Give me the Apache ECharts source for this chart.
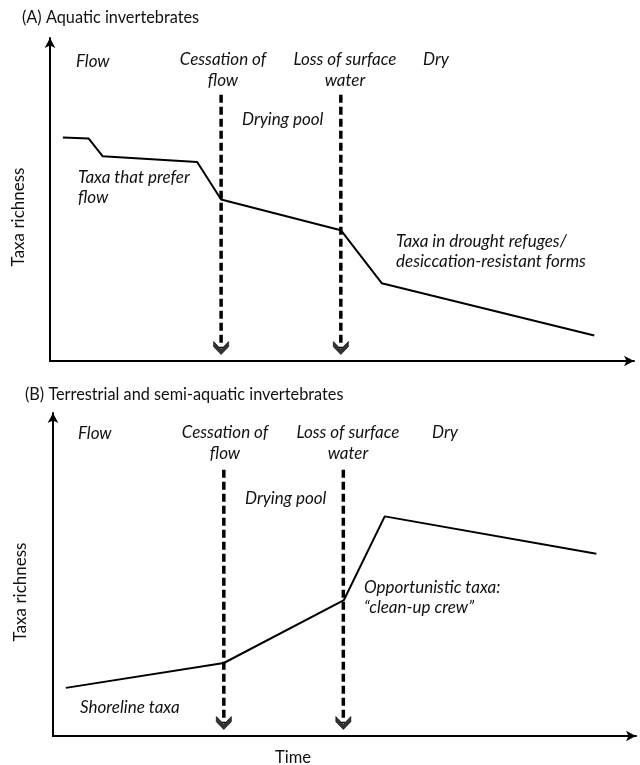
<!DOCTYPE html>
<html>
<head>
<meta charset="utf-8">
<script src="https://cdn.jsdelivr.net/npm/echarts@6/dist/echarts.min.js"></script>
<style>
  html, body { margin: 0; padding: 0; background: #fff; }
  #chart { width: 640px; height: 765px; }
</style>
</head>
<body>
<div id="chart"></div>
<script>
// ---- Data ----
const timeA = [2.2, 6.6, 9.0, 25.2, 29.3, 49.8, 56.8, 93.2];
const richnessA = [69.2, 68.9, 63.4, 61.6, 50.0, 40.5, 24.1, 7.9];
const timeB = [2.2, 29.3, 49.9, 56.9, 93.2];
const richnessB = [14.9, 22.6, 42.1, 68.0, 56.4];
const eventTimes = [29.3, 49.8];
const eventTop = 82.4;
const eventBottom = 2.0;
const panelTitles = ['(A) Aquatic invertebrates', '(B) Terrestrial and semi-aquatic invertebrates'];
const eventLabels = ['Cessation of\nflow', 'Loss of surface\nwater'];
const phaseLabels = ['Flow', 'Drying pool', 'Dry'];
const taxaLabelsA = ['Taxa that prefer\nflow', 'Taxa in drought refuges/\ndesiccation-resistant forms'];
const taxaLabelsB = ['Shoreline taxa', 'Opportunistic taxa:\n\u201cclean-up crew\u201d'];
const yName = 'Taxa richness';
const xName = 'Time';

const chart = echarts.init(document.getElementById('chart'), null, { renderer: 'canvas' });

const FONT = 'Lato';
const INK = '#111';
const chevron = 'path://M0,0 L7,7.5 L14,0 L14,5 L7,12.5 L0,5 Z';

function pairs(xs, ys) { return xs.map((x, i) => [x, ys[i]]); }

function axisX(gi) {
  return {
    gridIndex: gi, type: 'value', min: 0, max: 100,
    axisLine: { show: true, onZero: false, lineStyle: { color: '#000', width: 2 }, symbol: ['none', 'arrow'], symbolSize: [8, 10] },
    axisTick: { show: false }, axisLabel: { show: false }, splitLine: { show: false }
  };
}
function axisY(gi) {
  return {
    gridIndex: gi, type: 'value', min: 0, max: 100,
    axisLine: { show: true, onZero: false, lineStyle: { color: '#000', width: 2 }, symbol: ['none', 'arrow'], symbolSize: [8, 10] },
    axisTick: { show: false }, axisLabel: { show: false }, splitLine: { show: false }
  };
}

const series = [];
[pairs(timeA, richnessA), pairs(timeB, richnessB)].forEach((d, gi) => {
  series.push({
    type: 'line', xAxisIndex: gi, yAxisIndex: gi, data: d, symbol: 'none',
    lineStyle: { color: '#000', width: 2 }, silent: true, z: 3
  });
  eventTimes.forEach(t => {
    series.push({
      type: 'line', xAxisIndex: gi, yAxisIndex: gi,
      data: [[t, eventTop], [t, eventBottom + 2]], symbol: 'none',
      lineStyle: { color: '#000', width: 3.5, type: [8, 4] }, silent: true, z: 2
    });
  });
  series.push({
    type: 'scatter', xAxisIndex: gi, yAxisIndex: gi,
    data: eventTimes.map(t => [t, eventBottom]),
    symbol: chevron, symbolSize: [15, 13], symbolKeepAspect: false, symbolOffset: [0, -6.5],
    itemStyle: { color: '#000', borderColor: '#000', borderWidth: 0.8 }, silent: true, z: 4
  });
});

function txt(x, y, text, opts) {
  opts = opts || {};
  return {
    type: 'text', x: x, y: y, rotation: opts.rotation || 0,
    style: {
      text: text, fill: INK, font: (opts.italic === false ? '' : 'italic ') + (opts.size || 17) + 'px ' + FONT,
      textAlign: opts.align || 'left', textVerticalAlign: 'middle', lineHeight: opts.lh || 20
    },
    z: 10
  };
}

const graphics = [
  // Panel A
  txt(22, 18, panelTitles[0], { italic: false, size: 16.3 }),
  txt(76, 62, phaseLabels[0]),
  txt(223, 70.5, eventLabels[0], { align: 'center', lh: 21 }),
  txt(345, 70.5, eventLabels[1], { align: 'center', lh: 21 }),
  txt(423, 60, phaseLabels[2]),
  txt(242, 120, phaseLabels[1]),
  txt(78, 188, taxaLabelsA[0], { lh: 20 }),
  txt(396, 252, taxaLabelsA[1], { lh: 20 }),
  txt(19, 217, yName, { italic: false, size: 17, align: 'center', rotation: Math.PI / 2 }),
  // Panel B
  txt(25, 395, panelTitles[1], { italic: false, size: 16.3 }),
  txt(78, 434, phaseLabels[0]),
  txt(225, 443, eventLabels[0], { align: 'center', lh: 21 }),
  txt(348, 443, eventLabels[1], { align: 'center', lh: 21 }),
  txt(432, 433, phaseLabels[2]),
  txt(245, 499, phaseLabels[1]),
  txt(80, 708, taxaLabelsB[0]),
  txt(364, 598, taxaLabelsB[1], { lh: 20 }),
  txt(21, 592, yName, { italic: false, size: 17, align: 'center', rotation: Math.PI / 2 }),
  txt(293, 758, xName, { italic: false, size: 16.5, align: 'center' })
];

chart.setOption({
  animation: false,
  backgroundColor: '#fff',
  grid: [
    { left: 50, top: 38, width: 584, height: 323 },
    { left: 53, top: 413, width: 583, height: 323 }
  ],
  xAxis: [axisX(0), axisX(1)],
  yAxis: [axisY(0), axisY(1)],
  series: series,
  graphic: graphics
});
</script>
</body>
</html>
